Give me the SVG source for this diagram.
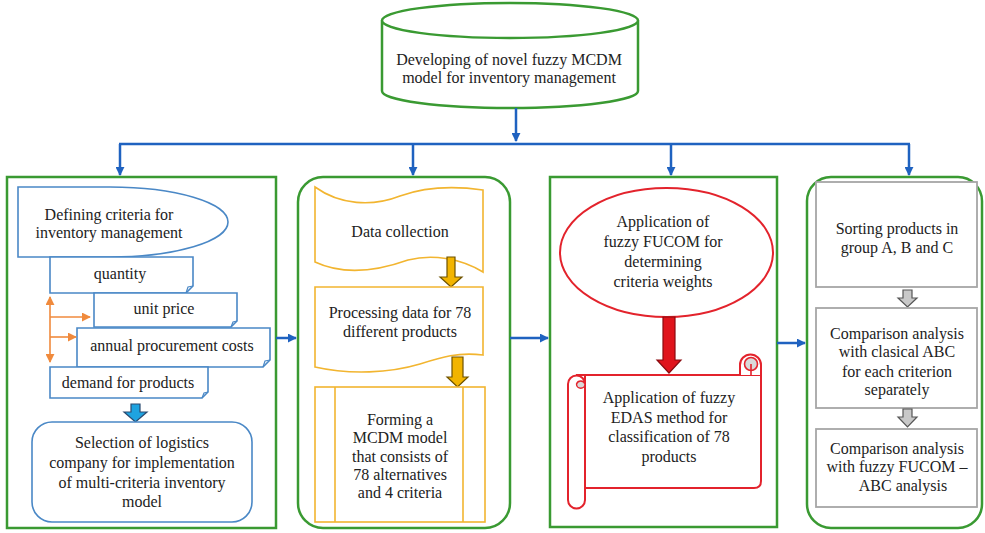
<svg xmlns="http://www.w3.org/2000/svg" width="985" height="533" viewBox="0 0 985 533" font-family="'Liberation Serif', 'Times New Roman', 'DejaVu Serif', serif">
<defs>
<style>
text{font-family:'Liberation Serif','Times New Roman','DejaVu Serif',serif;font-size:16px;fill:#222;text-anchor:middle}
.panel{fill:#fff;stroke:#3a9a32;stroke-width:2.5}
.conn{fill:none;stroke:#1f62c0;stroke-width:2.5}
.bl{fill:#fff;stroke:#4a88c6;stroke-width:1.6}
.yl{fill:#fff;stroke:#f2b530;stroke-width:1.6}
.rd{fill:#fff;stroke:#e3232c;stroke-width:2}
.gr{fill:#fff;stroke:#a6a6a6;stroke-width:1.8}
.or{fill:none;stroke:#f08a3c;stroke-width:1.6}
</style>
<marker id="ah" viewBox="0 0 10 10" refX="9" refY="5" markerWidth="9" markerHeight="9" markerUnits="userSpaceOnUse" orient="auto"><path d="M0,0 L10,5 L0,10 Z" fill="#1f62c0"/></marker>
<marker id="oa" viewBox="0 0 10 10" refX="9" refY="5" markerWidth="9" markerHeight="9" markerUnits="userSpaceOnUse" orient="auto-start-reverse"><path d="M0,0 L10,5 L0,10 Z" fill="#f08a3c"/></marker>
</defs>
<rect width="985" height="533" fill="#fff"/>

<g id="top">
<path d="M382,20.5 V91 A128,17 0 0 0 638,91 V20.5" fill="#fff" stroke="#3a9a32" stroke-width="2.5"/>
<ellipse cx="510" cy="20.5" rx="128" ry="17.5" fill="#fff" stroke="#3a9a32" stroke-width="2.5"/>
<text x="509" y="65">Developing of novel fuzzy MCDM</text>
<text x="509" y="83">model for inventory management</text>
</g>

<g id="panel1">
<rect class="panel" x="7" y="177" width="269" height="351"/>
</g>
<g id="panel2">
<rect class="panel" x="298" y="177" width="212" height="351" rx="25"/>
</g>
<g id="panel3">
<rect class="panel" x="550" y="177" width="227" height="350"/>
</g>
<g id="panel4">
<rect class="panel" x="807" y="177" width="175" height="351" rx="24"/>
</g>

<g id="connectors">
<line class="conn" x1="516" y1="108" x2="516" y2="141" marker-end="url(#ah)"/>
<line class="conn" x1="119" y1="144" x2="910" y2="144"/>
<line class="conn" x1="120" y1="144" x2="120" y2="175" marker-end="url(#ah)"/>
<line class="conn" x1="413" y1="144" x2="413" y2="175" marker-end="url(#ah)"/>
<line class="conn" x1="671" y1="144" x2="671" y2="175" marker-end="url(#ah)"/>
<line class="conn" x1="909" y1="144" x2="909" y2="175" marker-end="url(#ah)"/>
<line class="conn" x1="276" y1="338" x2="296" y2="338" marker-end="url(#ah)"/>
<line class="conn" x1="510" y1="338" x2="548" y2="338" marker-end="url(#ah)"/>
<line class="conn" x1="777" y1="343" x2="805" y2="343" marker-end="url(#ah)"/>
</g>

<g id="defining">
<path class="bl" d="M18,187 H110 A118,35 0 0 1 110,257 H18 Z"/>
<text x="109" y="220">Defining criteria for</text>
<text x="109" y="238">inventory management</text>
</g>
<g id="quantity">
<path class="bl" d="M50,257 H193 V286 L186,293 H50 Z"/>
<path d="M186,293 L188,287 L193,286" fill="none" stroke="#4a88c6" stroke-width="1.2"/>
<text x="120" y="279">quantity</text>
</g>
<g id="unitprice">
<path class="bl" d="M94,293 H237 V321 L231,327 H94 Z"/>
<path d="M231,327 L233,322 L237,321" fill="none" stroke="#4a88c6" stroke-width="1.2"/>
<text x="164" y="314">unit price</text>
</g>
<g id="annual">
<path class="bl" d="M77,328 H270 V360 L263,367 H77 Z"/>
<path d="M263,367 L265,361 L270,360" fill="none" stroke="#4a88c6" stroke-width="1.2"/>
<text x="172" y="351">annual procurement costs</text>
</g>
<g id="demand">
<path class="bl" d="M50,367 H208 V392 L202,398 H50 Z"/>
<path d="M202,398 L204,393 L208,392" fill="none" stroke="#4a88c6" stroke-width="1.2"/>
<text x="128" y="388">demand for products</text>
</g>
<g id="orange-connectors">
<line class="or" x1="50" y1="297" x2="50" y2="362" marker-start="url(#oa)" marker-end="url(#oa)"/>
<line class="or" x1="50" y1="317" x2="90" y2="317" marker-end="url(#oa)"/>
<line class="or" x1="50" y1="337" x2="76" y2="337" marker-end="url(#oa)"/>
</g>
<g id="bluearrow">
<path d="M131,404 H140 V412 H147 L135.5,422 L124,412 H131 Z" fill="#1ea3e0" stroke="#2a4a70" stroke-width="1.2"/>
</g>
<g id="selection">
<rect class="bl" x="32" y="422" width="220" height="100" rx="20"/>
<text x="142" y="448">Selection of logistics</text>
<text x="142" y="468">company for implementation</text>
<text x="142" y="488">of multi-criteria inventory</text>
<text x="142" y="507">model</text>
</g>

<g id="datacollection">
<path class="yl" d="M315,187 C340,205 372,207 400,196 C425,187 455,186 483,190 V272 C460,258 432,254 408,260 C380,270 345,276 315,262 Z"/>
<text x="400" y="237">Data collection</text>
</g>
<g id="yarrow1">
<path d="M447,257 H455 V277 H462 L451,287 L440,277 H447 Z" fill="#f2b400" stroke="#6e5200" stroke-width="1.2"/>
</g>
<g id="processing">
<path class="yl" d="M315,287 H483 V355 C458,352 442,357 420,364 C390,373 350,375 315,367 Z"/>
<text x="400" y="318">Processing data for 78</text>
<text x="400" y="337">different products</text>
</g>
<g id="yarrow2">
<path d="M452,357 H463 V377 H468 L457.5,387 L447,377 H452 Z" fill="#f2b400" stroke="#6e5200" stroke-width="1.2"/>
</g>
<g id="forming">
<rect class="yl" x="315" y="387" width="170" height="135"/>
<line class="yl" x1="335" y1="387" x2="335" y2="522"/>
<line class="yl" x1="463" y1="387" x2="463" y2="522"/>
<text x="400" y="425">Forming a</text>
<text x="400" y="443">MCDM model</text>
<text x="400" y="462">that consists of</text>
<text x="400" y="480">78 alternatives</text>
<text x="400" y="498">and 4 criteria</text>
</g>

<g id="fucom">
<ellipse class="rd" cx="666.5" cy="252.5" rx="106.5" ry="64.5"/>
<text x="663" y="227">Application of</text>
<text x="663" y="247">fuzzy FUCOM for</text>
<text x="663" y="267">determining</text>
<text x="663" y="287">criteria weights</text>
</g>
<g id="redarrow">
<path d="M663,317 H675 V360 H681 L669,373 L657,360 H663 Z" fill="#e0141c" stroke="#8a0a0f" stroke-width="1.2"/>
</g>
<g id="edas">
<path class="rd" d="M576,375 H761 V481 Q761,488 754,488 H585 V375"/>
<path class="rd" d="M740,375 V365 A10.5,10.5 0 0 1 761,365 V375"/>
<circle cx="751" cy="364" r="6.5" fill="#d9d9d9" stroke="#e3232c" stroke-width="1.6"/>
<line x1="751" y1="364" x2="751" y2="375" stroke="#e3232c" stroke-width="1.6"/>
<path class="rd" d="M568,384 A8.5,8.5 0 0 1 585,384 V500 A8.5,8.5 0 0 1 568,500 Z"/>
<path d="M576.5,384 A4.5,4.5 0 0 1 585,384 A4,4 0 0 1 576.5,384 Z" fill="#d9d9d9" stroke="#e3232c" stroke-width="1.4"/>
<text x="669" y="403">Application of fuzzy</text>
<text x="669" y="423">EDAS method for</text>
<text x="669" y="442">classification of 78</text>
<text x="669" y="462">products</text>
</g>

<g id="sorting">
<rect class="gr" x="816" y="182" width="161" height="105"/>
<text x="897" y="234">Sorting products in</text>
<text x="897" y="253">group A, B and C</text>
</g>
<g id="garrow1">
<path d="M903,290 H912 V298 H917 L907.5,307 L898,298 H903 Z" fill="#c8c8c8" stroke="#555" stroke-width="1.2"/>
</g>
<g id="classical">
<rect class="gr" x="816" y="308" width="161" height="100"/>
<text x="897" y="339">Comparison analysis</text>
<text x="897" y="357">with clasical ABC</text>
<text x="897" y="377">for each criterion</text>
<text x="897" y="395">separately</text>
</g>
<g id="garrow2">
<path d="M903,409 H912 V417 H917 L907.5,427 L898,417 H903 Z" fill="#c8c8c8" stroke="#555" stroke-width="1.2"/>
</g>
<g id="fuzzyabc">
<rect class="gr" x="816" y="429" width="161" height="78"/>
<text x="897" y="454">Comparison analysis</text>
<text x="897" y="472">with fuzzy FUCOM –</text>
<text x="903" y="491">ABC analysis</text>
</g>
</svg>
